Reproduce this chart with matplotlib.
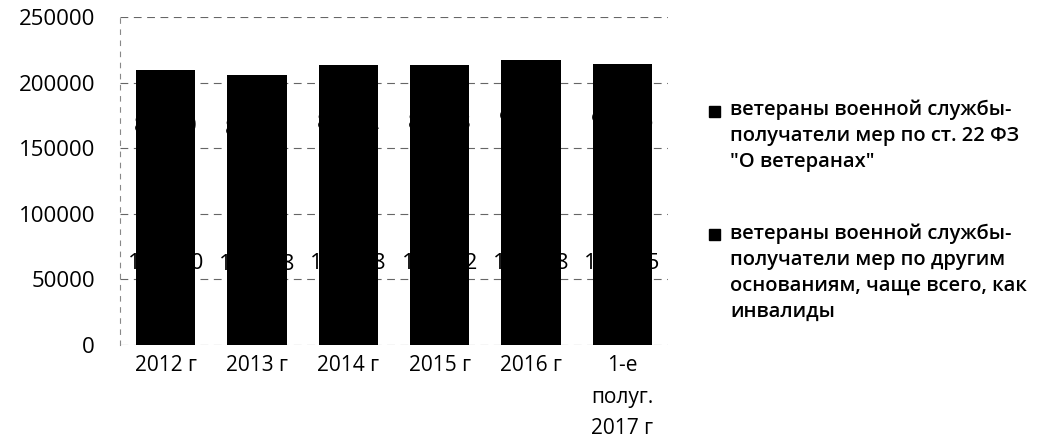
import matplotlib.pyplot as plt
from matplotlib.patches import Rectangle

# data (labels are mostly hidden by the black bars)
years = ['2012 г', '2013 г', '2014 г', '2015 г', '2016 г', '1-е\nполуг.\n2017 г']
other_grounds = [123610, 122318, 124208, 123872, 124988, 124125]
art22 = [86290, 83482, 88892, 89228, 92212, 90375]

legend_labels = [
    'ветераны военной службы-\nполучатели мер по ст. 22 ФЗ\n"О ветеранах"',
    'ветераны военной службы-\nполучатели мер по другим\nоснованиям, чаще всего, как\nинвалиды',
]
yticks = [0, 50000, 100000, 150000, 200000, 250000]

plt.rcParams['font.family'] = ['Open Sans', 'DejaVu Sans']
FS = 16

W, H = 1057, 448
fig = plt.figure(figsize=(W / 100, H / 100), dpi=100)
# plot area in pixels: x 120..668, y 17..345
ax = fig.add_axes([120 / W, 1 - 345 / H, 548 / W, 328 / H])

x = list(range(len(years)))
b1 = ax.bar(x, other_grounds, width=0.65, color='black')
b2 = ax.bar(x, art22, width=0.65, bottom=other_grounds, color='black')
ax.bar_label(b1, label_type='center', fontsize=FS, color='black')
ax.bar_label(b2, label_type='center', fontsize=FS, color='black')

ax.set_xlim(-0.5, len(years) - 0.5)
ax.set_ylim(0, 250000)
ax.set_yticks(yticks)
ax.set_yticklabels([str(v) for v in yticks])
ax.set_xticks(x)
ax.set_xticklabels(years, linespacing=1.68)
ax.tick_params(axis='both', length=0, labelsize=FS)
ax.tick_params(axis='x', labelsize=15, pad=7)
ax.tick_params(axis='y', pad=18)

ax.yaxis.grid(True, color='#666666', linestyle=(0, (7, 5)), linewidth=0.8)
ax.set_axisbelow(True)
for s in ['top', 'right', 'bottom']:
    ax.spines[s].set_visible(False)
ax.spines['left'].set_color('#888888')
ax.spines['left'].set_linestyle((0, (4, 6)))
ax.spines['left'].set_linewidth(0.8)

# legend drawn by hand so the marker sits on the first text line
leg_line1 = [112, 235]   # pixel y of the first text line of each entry
for lbl, ly in zip(legend_labels, leg_line1):
    fig.add_artist(Rectangle((709 / W, 1 - (ly + 5) / H), 11 / W, 11 / H,
                             transform=fig.transFigure, color='black'))
    fig.text(730 / W, 1 - (ly - 12) / H, lbl, fontsize=14.5, fontweight='semibold',
             va='top', ha='left', linespacing=1.4)

fig.savefig('out.png', dpi=100)
